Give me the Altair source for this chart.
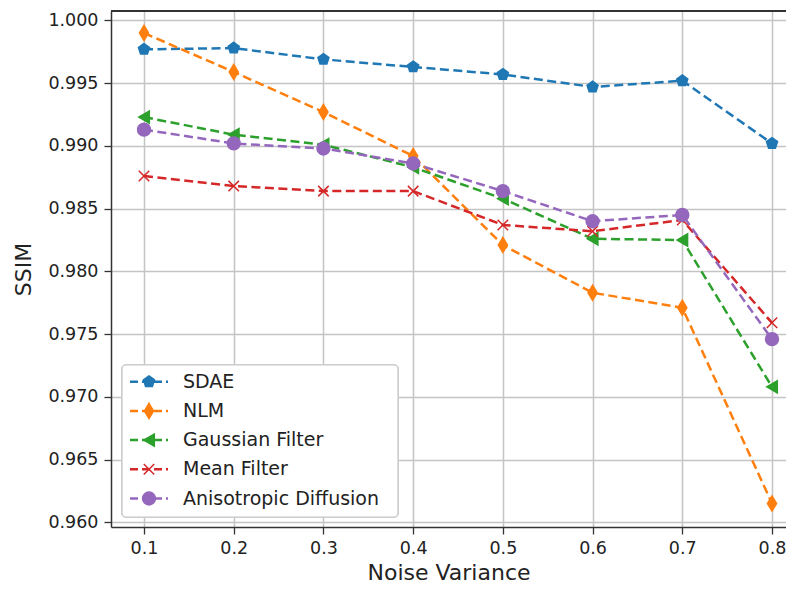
import altair as alt
import pandas as pd

# ---- data ----
noise = [0.1, 0.2, 0.3, 0.4, 0.5, 0.6, 0.7, 0.8]
series = ["SDAE", "NLM", "Gaussian Filter", "Mean Filter", "Anisotropic Diffusion"]
sdae = [0.9977, 0.9978, 0.9969, 0.9963, 0.9957, 0.9947, 0.9952, 0.9902]
nlm = [0.9990, 0.9959, 0.9927, 0.9892, 0.9821, 0.9783, 0.9771, 0.9615]
gauss = [0.9923, 0.9909, 0.9901, 0.9883, 0.9858, 0.9826, 0.9825, 0.9708]
mean = [0.9876, 0.9868, 0.9864, 0.9864, 0.9837, 0.9832, 0.9841, 0.9759]
aniso = [0.9913, 0.9902, 0.9898, 0.9886, 0.9864, 0.9840, 0.9845, 0.9746]
y_ticks = [0.960, 0.965, 0.970, 0.975, 0.980, 0.985, 0.990, 0.995, 1.000]

# ---- styles ----
colors = ["#1f77b4", "#ff7f0e", "#2ca02c", "#d62728", "#9467bd"]
pent = "M0,-1L0.951,-0.309L0.588,0.809L-0.588,0.809L-0.951,-0.309Z"
thin_diamond = "M0,-1L0.6,0L0,1L-0.6,0Z"
xmark = "M-1,-1L1,1M-1,1L1,-1"
shapes = [pent, thin_diamond, "triangle-left", xmark, "circle"]
sizes = [135, 230, 150, 110, 165]

values = [sdae, nlm, gauss, mean, aniso]
rows = []
for s, vals, sz in zip(series, values, sizes):
    for n, v in zip(noise, vals):
        rows.append({"series": s, "noise": n, "ssim": v, "msize": sz})
df = pd.DataFrame(rows)

leg = pd.DataFrame({"series": series, "idx": list(range(len(series))), "msize": sizes})

W, H = 675, 516
FONT = "DejaVu Sans"

color = alt.Color("series:N", scale=alt.Scale(domain=series, range=colors), legend=None)
stroke = alt.Stroke("series:N", scale=alt.Scale(domain=series, range=colors), legend=None)
shape = alt.Shape("series:N", scale=alt.Scale(domain=series, range=shapes), legend=None)
size = alt.Size("msize:Q", scale=None, legend=None)

x = alt.X("noise:Q", title="Noise Variance",
          scale=alt.Scale(domain=[0.06321, 0.8156], nice=False, zero=False),
          axis=alt.Axis(values=noise, format=".1f", labelPadding=5, titlePadding=6))
y = alt.Y("ssim:Q", title="SSIM",
          scale=alt.Scale(domain=[0.959625, 1.000757], nice=False, zero=False),
          axis=alt.Axis(values=y_ticks, format=".3f", labelPadding=6, titlePadding=12))

base = alt.Chart(df)
lines = base.mark_line(strokeWidth=2.5, strokeDash=[9, 4.5]).encode(x=x, y=y, color=color)
points = base.mark_point(filled=True, opacity=1, strokeWidth=1.5).encode(
    x=x, y=y, color=color, stroke=stroke, shape=shape, size=size)

top_border = alt.Chart(leg).mark_rule(color="#333", strokeWidth=1.5).encode(
    x=alt.value(0), x2=alt.value(W), y=alt.value(0))

# ---- legend (drawn as layers) ----
legbox = alt.Chart(leg).mark_rect(
    fill="white", fillOpacity=0.85, stroke="#cccccc", strokeWidth=1.2, cornerRadius=4
).encode(x=alt.value(11), x2=alt.value(287), y=alt.value(354), y2=alt.value(506))

lb = alt.Chart(leg).transform_calculate(py="370.7 + datum.idx * 29.2")
py = alt.Y("py:Q", scale=None, axis=None)
leg_lines = lb.mark_rule(strokeWidth=2.5, strokeDash=[8, 4]).encode(
    x=alt.value(19), x2=alt.value(57), y=py, color=color)
leg_pts = lb.mark_point(filled=True, opacity=1, strokeWidth=1.5).encode(
    x=alt.value(38), y=py, color=color, stroke=stroke, shape=shape, size=size)
leg_txt = lb.mark_text(align="left", baseline="middle", fontSize=19, font=FONT, color="#222").encode(
    x=alt.value(72), y=py, text="series:N")

chart = alt.layer(
    lines, points, top_border, legbox, leg_lines, leg_pts, leg_txt
).properties(
    width=W, height=H,
    autosize=alt.AutoSizeParams(type="none"),
    padding={"left": 103, "top": 3, "right": 0, "bottom": 58},
).configure_view(stroke=None).configure_axis(
    labelFont=FONT, titleFont=FONT, labelFontSize=17.5, titleFontSize=22,
    titleFontWeight="normal", labelColor="#222", titleColor="#222",
    domainColor="#333", domainWidth=1.5, tickColor="#333", tickSize=7, tickWidth=1.3,
    gridColor="#c4c4c4", gridWidth=1.5,
)

chart.save("out.html", embed_options={"renderer": "svg", "actions": False})
